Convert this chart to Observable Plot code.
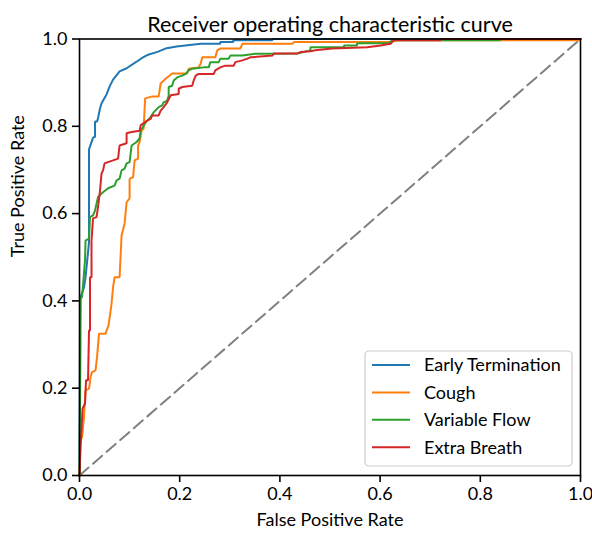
<!DOCTYPE html>
<html>
<head>
<meta charset="utf-8">
<script src="https://cdn.jsdelivr.net/npm/d3@7"></script>
<script src="https://cdn.jsdelivr.net/npm/@observablehq/plot@0.6"></script>
<style>
  html, body { margin: 0; padding: 0; background: #fff; }
  #chart svg { display: block; }
</style>
</head>
<body>
<div id="chart"></div>
<script>
const seriesNames = ["Early Termination", "Cough", "Variable Flow", "Extra Breath"];
const seriesColors = ["#1f77b4", "#ff7f0e", "#2ca02c", "#d62728"];
const tickValues = [0, 0.2, 0.4, 0.6, 0.8, 1.0];
const tickLabels = ["0.0", "0.2", "0.4", "0.6", "0.8", "1.0"];

const earlyTerminationFpr = [0, 0.001, 0.002, 0.009, 0.012, 0.019, 0.019, 0.027, 0.031, 0.031, 0.035, 0.037, 0.041, 0.044, 0.054, 0.060, 0.067, 0.080, 0.094, 0.114, 0.124, 0.137, 0.157, 0.174, 0.194, 0.242, 0.281, 0.281, 0.307, 0.307, 0.385, 0.385, 1.0];
const earlyTerminationTpr = [0, 0.332, 0.408, 0.431, 0.454, 0.534, 0.747, 0.774, 0.776, 0.811, 0.811, 0.819, 0.841, 0.853, 0.873, 0.891, 0.907, 0.926, 0.933, 0.948, 0.956, 0.964, 0.971, 0.979, 0.983, 0.989, 0.989, 0.993, 0.993, 0.997, 0.997, 1.0, 1.0];

const coughFpr = [0, 0.002, 0.005, 0.009, 0.012, 0.019, 0.022, 0.025, 0.032, 0.035, 0.039, 0.052, 0.054, 0.058, 0.064, 0.067, 0.070, 0.080, 0.084, 0.090, 0.094, 0.100, 0.100, 0.107, 0.110, 0.117, 0.117, 0.120, 0.124, 0.128, 0.131, 0.144, 0.158, 0.162, 0.170, 0.175, 0.185, 0.215, 0.218, 0.238, 0.242, 0.245, 0.271, 0.275, 0.281, 0.321, 0.325, 0.425, 0.428, 0.621, 0.634, 0.999, 1.0];
const coughTpr = [0, 0.080, 0.088, 0.134, 0.195, 0.199, 0.225, 0.237, 0.241, 0.271, 0.325, 0.325, 0.332, 0.344, 0.394, 0.431, 0.454, 0.454, 0.550, 0.577, 0.626, 0.635, 0.680, 0.683, 0.722, 0.726, 0.756, 0.764, 0.790, 0.795, 0.864, 0.868, 0.868, 0.898, 0.907, 0.912, 0.921, 0.921, 0.932, 0.935, 0.944, 0.958, 0.958, 0.974, 0.978, 0.978, 0.989, 0.989, 0.993, 0.993, 0.997, 0.997, 1.0];

const variableFlowFpr = [0, 0.002, 0.002, 0.005, 0.007, 0.011, 0.012, 0.019, 0.021, 0.027, 0.031, 0.037, 0.044, 0.047, 0.057, 0.070, 0.074, 0.080, 0.084, 0.090, 0.094, 0.100, 0.104, 0.114, 0.120, 0.122, 0.132, 0.142, 0.148, 0.158, 0.165, 0.168, 0.175, 0.178, 0.178, 0.185, 0.188, 0.195, 0.205, 0.212, 0.218, 0.225, 0.248, 0.258, 0.261, 0.278, 0.281, 0.298, 0.301, 0.325, 0.351, 0.435, 0.461, 0.461, 0.528, 0.528, 0.554, 0.554, 0.617, 0.624, 0.840, 0.840, 1.0];
const variableFlowTpr = [0, 0.309, 0.408, 0.408, 0.435, 0.493, 0.538, 0.543, 0.592, 0.596, 0.607, 0.638, 0.646, 0.649, 0.658, 0.664, 0.676, 0.680, 0.699, 0.703, 0.715, 0.718, 0.756, 0.764, 0.772, 0.790, 0.809, 0.821, 0.832, 0.844, 0.848, 0.855, 0.859, 0.870, 0.890, 0.893, 0.905, 0.912, 0.916, 0.920, 0.928, 0.932, 0.935, 0.935, 0.947, 0.947, 0.955, 0.955, 0.962, 0.962, 0.966, 0.967, 0.974, 0.981, 0.981, 0.985, 0.985, 0.990, 0.990, 0.997, 0.997, 1.0, 1.0];

const extraBreathFpr = [0, 0.002, 0.004, 0.006, 0.011, 0.013, 0.017, 0.019, 0.021, 0.021, 0.024, 0.024, 0.027, 0.034, 0.037, 0.041, 0.044, 0.047, 0.050, 0.057, 0.067, 0.077, 0.080, 0.094, 0.094, 0.104, 0.120, 0.122, 0.135, 0.142, 0.145, 0.158, 0.162, 0.168, 0.175, 0.182, 0.198, 0.198, 0.205, 0.225, 0.228, 0.232, 0.238, 0.268, 0.271, 0.281, 0.291, 0.308, 0.311, 0.325, 0.335, 0.341, 0.385, 0.388, 0.435, 0.441, 0.461, 0.471, 0.504, 0.574, 0.601, 0.621, 0.627, 0.721, 0.721, 1.0];
const extraBreathTpr = [0, 0.065, 0.103, 0.153, 0.165, 0.218, 0.218, 0.332, 0.332, 0.454, 0.454, 0.538, 0.589, 0.592, 0.615, 0.653, 0.692, 0.699, 0.715, 0.718, 0.722, 0.726, 0.756, 0.761, 0.784, 0.787, 0.790, 0.802, 0.813, 0.817, 0.825, 0.825, 0.836, 0.844, 0.855, 0.871, 0.874, 0.886, 0.890, 0.893, 0.905, 0.916, 0.920, 0.920, 0.928, 0.935, 0.939, 0.939, 0.947, 0.951, 0.955, 0.958, 0.962, 0.967, 0.967, 0.970, 0.972, 0.974, 0.978, 0.981, 0.985, 0.989, 0.997, 0.997, 1.0, 1.0];

const diagonalX = [0, 1];
const diagonalY = [0, 1];

const fprs = [earlyTerminationFpr, coughFpr, variableFlowFpr, extraBreathFpr];
const tprs = [earlyTerminationTpr, coughTpr, variableFlowTpr, extraBreathTpr];
const rocData = seriesNames.flatMap((name, i) =>
  fprs[i].map((f, j) => ({series: name, fpr: f, tpr: tprs[i][j]})));
const diagonal = diagonalX.map((x, i) => ({x, y: diagonalY[i]}));

const font = "Lato, 'Open Sans', sans-serif";

const chart = Plot.plot({
  width: 592,
  height: 536,
  marginLeft: 79,
  marginRight: 12,
  marginTop: 38.5,
  marginBottom: 61,
  style: {fontFamily: font, fontSize: "18px", color: "#000", background: "#fff"},
  x: {domain: [0, 1]},
  y: {domain: [0, 1]},
  color: {domain: seriesNames, range: seriesColors},
  marks: [
    Plot.line(diagonal, {x: "x", y: "y", stroke: "#808080", strokeWidth: 2, strokeDasharray: "12,6"}),
    Plot.line(rocData, {x: "fpr", y: "tpr", z: "series", stroke: "series", strokeWidth: 2, strokeLinejoin: "miter", strokeLinecap: "square"}),
    Plot.frame({stroke: "#000", strokeWidth: 1.6}),
    Plot.axisX({ticks: tickValues, tickFormat: (d, i) => tickLabels[i], tickSize: 7, tickPadding: 5, strokeWidth: 1.6, stroke: "#000", fontSize: 18, label: null}),
    Plot.axisY({ticks: tickValues, tickFormat: (d, i) => tickLabels[i], tickSize: 7, tickPadding: 5, strokeWidth: 1.6, stroke: "#000", fontSize: 18, label: null}),
    Plot.text(["Receiver operating characteristic curve"], {frameAnchor: "top", dy: -22, fontSize: 21.5, fill: "#000"}),
    Plot.text(["False Positive Rate"], {frameAnchor: "bottom", dy: 50, fontSize: 18, fill: "#000"}),
    Plot.text(["True Positive Rate"], {frameAnchor: "left", dx: -61, rotate: -90, fontSize: 18, fill: "#000"})
  ]
});

document.getElementById("chart").appendChild(chart);

// Legend overlay (pixel layout)
const svg = d3.select(chart);
const lg = svg.append("g").attr("font-family", font).attr("font-size", 18).attr("text-anchor", "start");
lg.append("rect").attr("x", 365).attr("y", 351).attr("width", 207).attr("height", 115)
  .attr("rx", 4).attr("fill", "#fff").attr("fill-opacity", 0.8).attr("stroke", "#cccccc").attr("stroke-width", 1.2);
seriesNames.forEach((name, i) => {
  const cy = 365 + i * 27.4;
  lg.append("line").attr("x1", 372).attr("x2", 410).attr("y1", cy).attr("y2", cy)
    .attr("stroke", seriesColors[i]).attr("stroke-width", 2);
  lg.append("text").attr("x", 424).attr("y", cy).attr("dy", "0.35em").attr("fill", "#000")
    .attr("text-anchor", "start").text(name);
});
</script>
</body>
</html>
